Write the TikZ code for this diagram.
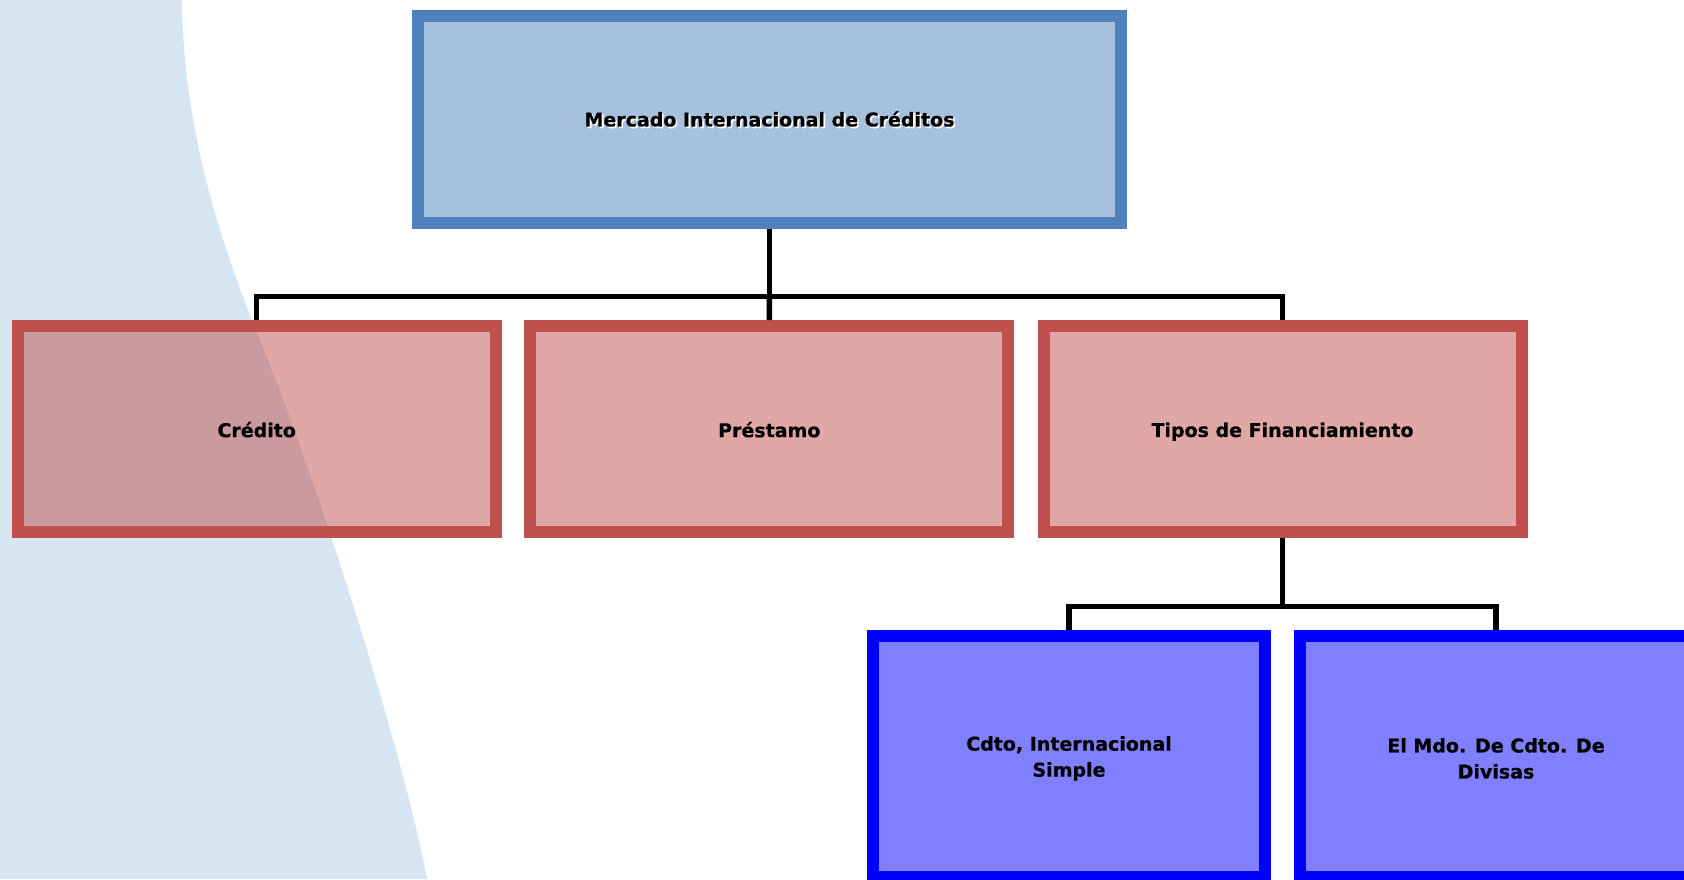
\documentclass[tikz,border=0pt]{standalone}
\usepackage{fontspec}
\setmainfont{DejaVu Sans}[BoldFeatures={FakeBold=0.6}]
\usetikzlibrary{calc}
\definecolor{swoosh}{RGB}{214,229,242}
\definecolor{topblue}{RGB}{79,129,189}
\definecolor{redb}{RGB}{192,80,77}
\definecolor{pureblue}{RGB}{0,0,255}
\tikzset{
  box/.style={draw, line width=12pt, fill opacity=0.5, text opacity=1, inner sep=0pt},
  topbox/.style={box, draw=topblue, fill=topblue, minimum width=703pt, minimum height=207pt},
  redbox/.style={box, draw=redb, fill=redb, minimum width=478pt, minimum height=206.3pt},
  bluebox/.style={box, draw=pureblue, fill=pureblue, minimum width=391.4pt, minimum height=240.7pt},
  txt/.style={inner sep=0pt, align=center, fill opacity=1, text opacity=1, font=\fontsize{19}{26}\selectfont\bfseries},
  conn/.style={line width=5.5pt, black},
}
\begin{document}
\begin{tikzpicture}[x=1pt,y=-1pt]
\useasboundingbox (0,0) rectangle (1684,879);
% background swoosh
\fill[swoosh] (0,0) -- (182,0)
  .. controls (183,120) and (215,230) .. (260,340)
  .. controls (321,490) and (405,760) .. (427,879)
  -- (0,879) -- cycle;
% boxes
\node[topbox] (top) at (769.5,119) {};
\node[txt, white, opacity=0.85] (topshadow) at ($(top)+(1.6,1.6)$) {Mercado Internacional de Créditos};
\node[txt] (toptext) at (top) {Mercado Internacional de Créditos};
\node[redbox, label={[txt, yshift=-0.5pt]center:Crédito}] (cred) at (256.7,429.2) {};
\node[redbox, label={[txt, yshift=-0.5pt]center:Préstamo}] (pres) at (769.3,429.2) {};
\node[redbox, label={[txt, yshift=-2.5pt]center:Tipos de Financiamiento}] (tipo) at (1282.5,429.2) {};
\node[bluebox, label={[txt, yshift=-2pt]center:Cdto, Internacional\\Simple}] (cdto) at (1069,756.4) {};
\node[bluebox, label={[txt, yshift=-2pt]center:El Mdo. De Cdto. De\\Divisas}] (mdo) at (1496,756.4) {};
% connectors
\coordinate (j1) at (769.5,296.3);
\coordinate (j2) at (1282.5,606.3);
\draw[conn] (top.south) -- (j1);
\draw[conn] (cred.north) |- (j1) -| (tipo.north);
\draw[conn] (j1) -- (pres.north);
\draw[conn] (tipo.south) -- (j2);
\draw[conn] (cdto.north) |- (j2) -| (mdo.north);
\end{tikzpicture}
\end{document}
